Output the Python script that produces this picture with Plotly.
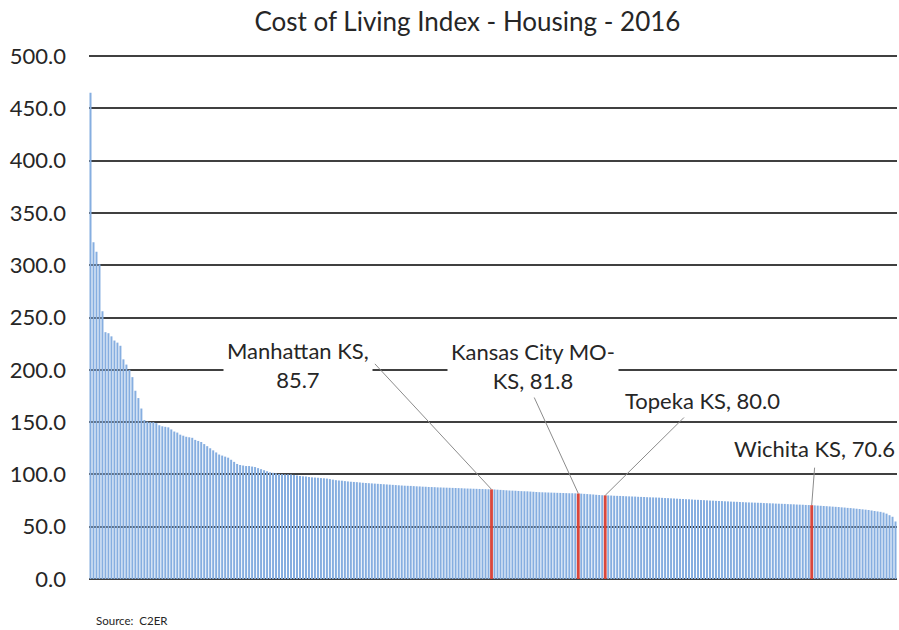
import plotly.graph_objects as go

title = "Cost of Living Index - Housing - 2016"
source = "Source:  C2ER"

# Housing index values for urban areas, sorted descending
values = [
    465.0, 322.0, 313.0, 301.0, 256.0, 236.0, 235.0, 232.0, 228.0, 226.0,
    223.0, 210.0, 205.0, 200.0, 193.0, 180.0, 173.0, 163.0, 152.0, 150.5,
    150.0, 150.0, 149.0, 147.0, 146.0, 145.5, 145.0, 143.0, 141.0, 140.0,
    138.0, 137.0, 136.0, 135.5, 135.0, 133.0, 132.0, 131.0, 129.0, 127.0,
    125.0, 123.0, 121.0, 119.0, 118.0, 117.0, 116.0, 114.0, 112.0, 110.0,
    109.0, 108.5, 108.0, 108.0, 107.5, 107.0, 106.0, 105.0, 104.0, 103.0,
    102.0, 101.5, 101.0, 100.5, 100.3, 100.0, 100.0, 99.8, 99.5, 99.0,
    98.5, 98.2, 98.0, 97.5, 97.2, 97.0, 96.8, 96.5, 96.3, 96.0,
    95.5, 95.0, 94.5, 94.2, 94.0, 93.6, 93.3, 93.0, 92.8, 92.6,
    92.3, 92.0, 91.8, 91.6, 91.4, 91.2, 91.0, 90.8, 90.6, 90.4,
    90.2, 90.0, 89.8, 89.6, 89.4, 89.2, 89.1, 89.0, 88.8, 88.6,
    88.5, 88.3, 88.2, 88.0, 87.9, 87.8, 87.6, 87.5, 87.4, 87.3,
    87.2, 87.1, 87.0, 86.9, 86.8, 86.6, 86.5, 86.4, 86.3, 86.2,
    86.1, 86.0, 85.9, 85.8, 85.7, 85.6, 85.4, 85.2, 85.0, 84.8,
    84.6, 84.5, 84.4, 84.2, 84.0, 83.9, 83.8, 83.6, 83.4, 83.2,
    83.0, 82.9, 82.8, 82.7, 82.6, 82.5, 82.4, 82.3, 82.2, 82.1,
    82.0, 82.0, 81.9, 81.8, 81.6, 81.4, 81.2, 81.0, 80.8, 80.5,
    80.3, 80.1, 80.0, 79.9, 79.8, 79.6, 79.5, 79.4, 79.3, 79.1,
    79.0, 78.9, 78.8, 78.6, 78.5, 78.4, 78.2, 78.1, 78.0, 77.9,
    77.8, 77.6, 77.4, 77.3, 77.1, 77.0, 76.8, 76.6, 76.5, 76.3,
    76.2, 76.0, 75.8, 75.7, 75.5, 75.4, 75.2, 75.0, 74.9, 74.7,
    74.6, 74.5, 74.3, 74.2, 74.0, 73.9, 73.8, 73.6, 73.5, 73.3,
    73.2, 73.1, 73.0, 72.9, 72.8, 72.6, 72.5, 72.4, 72.3, 72.1,
    72.0, 71.9, 71.8, 71.6, 71.5, 71.4, 71.2, 71.1, 71.0, 70.8,
    70.7, 70.6, 70.4, 70.2, 70.0, 69.8, 69.6, 69.4, 69.2, 69.0,
    68.8, 68.5, 68.3, 68.0, 67.8, 67.5, 67.2, 66.9, 66.6, 66.3,
    66.0, 65.5, 65.0, 64.6, 64.2, 63.5, 62.5, 61.0, 59.5, 55.0,
]
ranks = list(range(len(values)))

# Highlighted Kansas cities
highlight_idx = [134, 163, 172, 241]
highlight_text = ["Manhattan KS,<br>85.7", "Kansas City MO-<br>KS, 81.8",
                  "Topeka KS, 80.0", "Wichita KS, 70.6"]

tick_vals = [0, 50, 100, 150, 200, 250, 300, 350, 400, 450, 500]
tick_text = [f"{v:.1f}" for v in tick_vals]

# styling / label placement (pixel offsets from bar tops)
text_shift = [(-194, 124), (-45, 127), (97, 95), (3, 57)]
line_off = [(-118, -127), (-45, -98), (83, -82), (3, -39)]

BLUE = "#86AEE0"
RED = "#D9473C"
colors = [RED if i in highlight_idx else BLUE for i in ranks]
widths = [0.95 if i in highlight_idx else 0.67 for i in ranks]

FONT = "Lato"

fig = go.Figure(go.Bar(
    x=ranks, y=values, width=widths,
    marker=dict(color=colors, line=dict(width=0)),
    hoverinfo="y",
))

annotations = []
for k, i in enumerate(highlight_idx):
    annotations.append(dict(
        x=i, y=values[i], xref="x", yref="y", text="", showarrow=True,
        arrowhead=0, arrowwidth=1, arrowcolor="#8C8C8C",
        ax=line_off[k][0], ay=line_off[k][1], standoff=0, startstandoff=0,
    ))
for k, i in enumerate(highlight_idx):
    annotations.append(dict(
        x=i, y=values[i], xref="x", yref="y", text=highlight_text[k],
        showarrow=False, xshift=text_shift[k][0], yshift=text_shift[k][1],
        xanchor="center", yanchor="middle", bgcolor="white", borderpad=3,
        font=dict(family=FONT, size=22, color="#262626"),
    ))
annotations.append(dict(
    x=(94 - 89) / 808, y=-0.08, xref="paper", yref="paper", text=source,
    showarrow=False, xanchor="left", yanchor="middle",
    font=dict(family=FONT, size=11.5, color="#262626"),
))

fig.update_layout(
    width=899, height=630,
    margin=dict(l=89, r=2, t=55, b=51),
    paper_bgcolor="white", plot_bgcolor="white",
    title=dict(text=title, x=0.52, xanchor="center", y=0.965, yanchor="middle",
               font=dict(family=FONT, size=26, color="#262626")),
    showlegend=False,
    annotations=annotations,
    xaxis=dict(range=[-0.5, len(values) - 0.5], showticklabels=False,
               showgrid=False, zeroline=False, showline=False, ticks=""),
    yaxis=dict(range=[0, 501], tickvals=tick_vals, ticktext=tick_text,
               showgrid=True, gridcolor="#404040", gridwidth=1.6,
               zeroline=True, zerolinecolor="#404040", zerolinewidth=1.6,
               showline=False, ticks="", ticklabelstandoff=22,
               tickfont=dict(family=FONT, size=22, color="#262626")),
)

fig.write_html("out.html", config={"displayModeBar": False},
               post_script="document.body.style.margin='0';")
